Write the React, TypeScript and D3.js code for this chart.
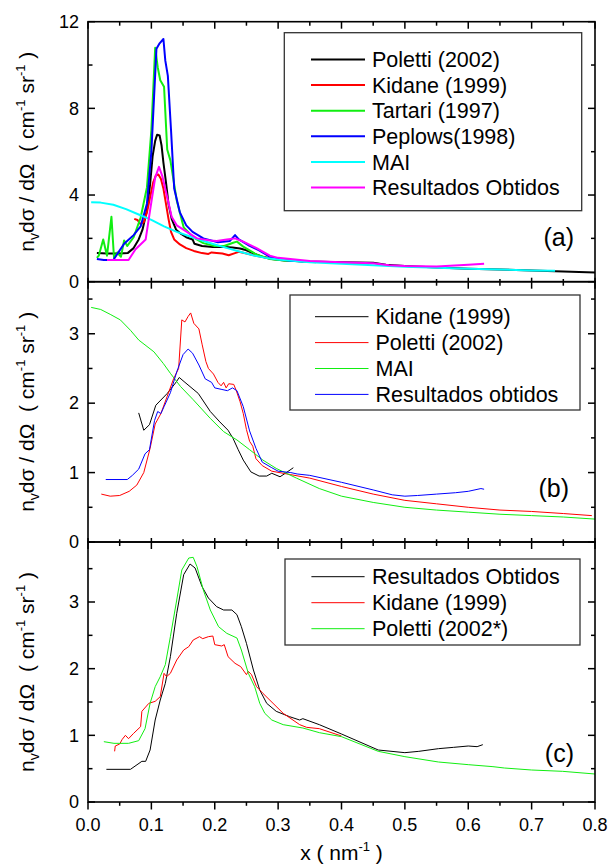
import React from 'react';
import * as d3 from 'd3';

type P = [number, number];

// ---------- axis ticks ----------
const xMajor = [0, 0.1, 0.2, 0.3, 0.4, 0.5, 0.6, 0.7, 0.8];
const xMinor = [0.05, 0.15, 0.25, 0.35, 0.45, 0.55, 0.65, 0.75];
const xTickLabels = ['0.0', '0.1', '0.2', '0.3', '0.4', '0.5', '0.6', '0.7', '0.8'];
const yMajorA = [0, 4, 8, 12];
const yMinorA = [2, 6, 10];
const yMajorBC = [0, 1, 2, 3];
const yMinorBC = [0.5, 1.5, 2.5, 3.5];

// ---------- panel (a) ----------
const aLegend = ['Poletti (2002)', 'Kidane (1999)', 'Tartari (1997)', 'Peplows(1998)', 'MAI', 'Resultados Obtidos'];
const aPoletti: P[] = [[0.014,1.32],[0.03,1.3],[0.05,1.3],[0.063,1.33],[0.072,1.55],[0.08,1.95],[0.086,2.4],[0.093,3.3],[0.098,4.5],[0.102,5.8],[0.106,6.5],[0.109,6.78],[0.113,6.75],[0.116,6.3],[0.119,5.5],[0.123,4.6],[0.127,3.6],[0.132,2.9],[0.139,2.4],[0.147,2.2],[0.155,2.05],[0.165,1.95],[0.168,1.75],[0.18,1.65],[0.197,1.6],[0.215,1.6],[0.228,1.58],[0.24,1.53],[0.25,1.45],[0.26,1.32],[0.275,1.15],[0.29,1.05],[0.31,0.98],[0.35,0.93],[0.4,0.9],[0.45,0.87],[0.47,0.78],[0.5,0.72],[0.55,0.66],[0.6,0.6],[0.65,0.56],[0.7,0.52],[0.75,0.47],[0.8,0.42]];
const aKidane: P[] = [[0.073,2.9],[0.078,2.85],[0.083,2.65],[0.088,2.75],[0.093,3.2],[0.098,3.9],[0.103,4.6],[0.107,4.9],[0.111,4.95],[0.115,4.75],[0.119,4.3],[0.123,3.6],[0.127,2.9],[0.131,2.3],[0.136,1.95],[0.145,1.72],[0.155,1.55],[0.167,1.42],[0.18,1.32],[0.19,1.28],[0.195,1.35],[0.203,1.33],[0.212,1.3],[0.222,1.22],[0.232,1.32],[0.238,1.38],[0.25,1.3],[0.265,1.2],[0.28,1.12],[0.3,1.05],[0.32,1.0]];
const aTartari: P[] = [[0.014,1.1],[0.017,1.2],[0.024,1.95],[0.03,1.2],[0.037,3.0],[0.041,1.12],[0.046,1.35],[0.052,1.15],[0.057,1.9],[0.062,1.65],[0.072,2.05],[0.083,2.95],[0.093,4.35],[0.1,7.0],[0.106,10.8],[0.11,9.9],[0.114,9.3],[0.12,9.0],[0.125,6.1],[0.13,5.6],[0.14,3.75],[0.151,2.5],[0.166,2.05],[0.182,1.78],[0.2,1.65],[0.215,1.65],[0.229,1.8],[0.235,1.85],[0.245,1.62],[0.266,1.25],[0.287,1.05],[0.31,0.98],[0.34,0.93],[0.36,0.9]];
const aPeplows: P[] = [[0.014,1.05],[0.025,1.0],[0.04,1.0],[0.049,1.4],[0.057,1.75],[0.072,2.15],[0.083,2.55],[0.093,3.6],[0.1,6.0],[0.108,10.75],[0.113,11.0],[0.119,11.2],[0.122,10.2],[0.126,9.5],[0.131,7.0],[0.136,4.3],[0.145,3.2],[0.155,2.6],[0.165,2.3],[0.182,2.0],[0.205,1.82],[0.224,1.88],[0.232,2.15],[0.238,1.95],[0.255,1.65],[0.27,1.45],[0.287,1.15],[0.3,1.05],[0.32,0.97],[0.34,0.93]];
const aMAI: P[] = [[0.005,3.67],[0.02,3.65],[0.04,3.55],[0.06,3.35],[0.08,3.1],[0.1,2.85],[0.12,2.55],[0.14,2.3],[0.16,2.1],[0.18,1.9],[0.2,1.72],[0.22,1.55],[0.24,1.38],[0.26,1.22],[0.28,1.1],[0.3,1.02],[0.35,0.9],[0.4,0.83],[0.45,0.76],[0.5,0.69],[0.55,0.64],[0.6,0.6],[0.65,0.56],[0.7,0.52],[0.737,0.5]];
const aResultados: P[] = [[0.03,1.0],[0.064,1.0],[0.075,1.5],[0.091,1.95],[0.098,3.3],[0.106,4.8],[0.112,5.3],[0.117,4.9],[0.125,3.9],[0.132,3.0],[0.14,2.6],[0.156,2.3],[0.172,2.0],[0.193,1.9],[0.203,1.88],[0.219,1.95],[0.232,2.0],[0.245,1.85],[0.266,1.55],[0.287,1.2],[0.3,1.1],[0.35,0.95],[0.4,0.9],[0.45,0.85],[0.475,0.76],[0.5,0.72],[0.55,0.7],[0.6,0.78],[0.625,0.83]];

// ---------- panel (b) ----------
const bLegend = ['Kidane (1999)', 'Poletti (2002)', 'MAI', 'Resultados obtidos'];
const bKidane: P[] = [[0.08,1.86],[0.088,1.61],[0.097,1.69],[0.107,1.97],[0.125,2.14],[0.138,2.29],[0.144,2.37],[0.153,2.3],[0.174,2.14],[0.193,1.88],[0.208,1.73],[0.221,1.61],[0.229,1.49],[0.237,1.33],[0.245,1.18],[0.257,1.01],[0.27,0.95],[0.282,0.95],[0.29,0.99],[0.303,0.94],[0.313,1.0],[0.324,1.07]];
const bPoletti: P[] = [[0.021,0.69],[0.035,0.66],[0.05,0.67],[0.065,0.73],[0.077,0.82],[0.088,1.0],[0.098,1.35],[0.106,1.7],[0.115,1.85],[0.125,2.1],[0.135,2.35],[0.143,2.5],[0.148,3.2],[0.153,3.17],[0.158,3.25],[0.162,3.3],[0.167,3.15],[0.175,3.07],[0.18,2.85],[0.186,2.6],[0.19,2.5],[0.198,2.42],[0.205,2.3],[0.21,2.25],[0.214,2.3],[0.218,2.22],[0.222,2.28],[0.23,2.27],[0.234,2.18],[0.24,2.02],[0.245,1.85],[0.25,1.62],[0.255,1.45],[0.26,1.38],[0.265,1.2],[0.275,1.1],[0.29,1.02],[0.32,0.97],[0.35,0.92],[0.4,0.8],[0.45,0.69],[0.5,0.6],[0.55,0.55],[0.6,0.5],[0.65,0.46],[0.7,0.44],[0.75,0.41],[0.795,0.38]];
const bMAI: P[] = [[0.005,3.38],[0.02,3.35],[0.035,3.28],[0.051,3.2],[0.067,3.05],[0.08,2.91],[0.104,2.74],[0.119,2.57],[0.13,2.43],[0.146,2.24],[0.166,2.05],[0.193,1.78],[0.214,1.59],[0.235,1.47],[0.255,1.33],[0.276,1.18],[0.297,1.06],[0.329,0.92],[0.365,0.77],[0.4,0.66],[0.45,0.57],[0.5,0.5],[0.55,0.46],[0.6,0.43],[0.65,0.4],[0.7,0.38],[0.75,0.36],[0.8,0.33]];
const bResultados: P[] = [[0.028,0.9],[0.062,0.9],[0.07,0.96],[0.08,1.05],[0.09,1.27],[0.097,1.33],[0.105,1.75],[0.11,1.88],[0.115,1.85],[0.12,1.95],[0.13,2.15],[0.14,2.45],[0.15,2.7],[0.158,2.78],[0.165,2.72],[0.175,2.55],[0.185,2.35],[0.195,2.3],[0.2,2.22],[0.21,2.2],[0.22,2.18],[0.228,2.22],[0.235,2.18],[0.245,1.95],[0.255,1.6],[0.265,1.35],[0.275,1.15],[0.29,1.07],[0.3,1.02],[0.32,1.0],[0.33,0.98],[0.35,0.96],[0.4,0.86],[0.45,0.75],[0.48,0.68],[0.5,0.66],[0.52,0.67],[0.55,0.69],[0.58,0.71],[0.6,0.73],[0.62,0.77],[0.625,0.76]];

// ---------- panel (c) ----------
const cLegend = ['Resultados Obtidos', 'Kidane (1999)', 'Poletti (2002*)'];
const cResultados: P[] = [[0.029,0.49],[0.067,0.49],[0.085,0.61],[0.091,0.61],[0.098,0.78],[0.106,1.23],[0.114,1.53],[0.122,1.78],[0.13,2.18],[0.14,2.83],[0.151,3.41],[0.161,3.57],[0.169,3.51],[0.18,3.23],[0.19,3.06],[0.203,2.93],[0.214,2.88],[0.227,2.88],[0.235,2.81],[0.242,2.63],[0.25,2.38],[0.261,1.98],[0.271,1.68],[0.282,1.48],[0.297,1.36],[0.318,1.28],[0.334,1.23],[0.339,1.25],[0.365,1.16],[0.4,1.02],[0.458,0.78],[0.5,0.74],[0.522,0.76],[0.553,0.8],[0.577,0.82],[0.6,0.84],[0.614,0.83],[0.623,0.86]];
const cKidane: P[] = [[0.042,0.76],[0.043,0.84],[0.05,0.87],[0.054,0.94],[0.059,1.0],[0.064,0.95],[0.072,1.03],[0.083,1.13],[0.085,1.36],[0.096,1.48],[0.106,1.51],[0.114,1.58],[0.12,1.93],[0.124,1.88],[0.13,1.93],[0.14,2.13],[0.151,2.28],[0.159,2.33],[0.166,2.43],[0.176,2.48],[0.181,2.45],[0.19,2.48],[0.197,2.49],[0.2,2.36],[0.211,2.34],[0.215,2.36],[0.221,2.18],[0.232,2.08],[0.241,2.03],[0.25,1.91],[0.253,1.96],[0.258,1.91],[0.266,1.73],[0.276,1.63],[0.292,1.48],[0.308,1.33],[0.334,1.16],[0.345,1.12],[0.365,1.1],[0.4,0.99]];
const cPoletti: P[] = [[0.025,0.905],[0.041,0.88],[0.064,0.88],[0.08,0.92],[0.09,1.1],[0.098,1.48],[0.106,1.73],[0.114,1.88],[0.122,2.06],[0.13,2.48],[0.14,3.03],[0.148,3.48],[0.159,3.66],[0.166,3.67],[0.172,3.53],[0.182,3.18],[0.193,2.88],[0.206,2.63],[0.219,2.53],[0.235,2.46],[0.242,2.28],[0.253,1.93],[0.263,1.73],[0.271,1.48],[0.279,1.33],[0.29,1.23],[0.308,1.16],[0.339,1.11],[0.365,1.04],[0.4,0.98],[0.458,0.76],[0.5,0.68],[0.553,0.6],[0.6,0.56],[0.639,0.53],[0.657,0.51],[0.7,0.48],[0.749,0.46],[0.8,0.42]];

const FONT = '"Liberation Sans", Arial, Helvetica, sans-serif';
const GREEN = '#11ee11';

type Series = { data: P[]; color: string };
type PanelDef = {
  top: number; bottom: number; max: number;
  major: number[]; minor: number[];
  series: Series[]; width: number;
  legend: string[]; legendBox: [number, number, number, number];
  rowY: number; rowStep: number; lineX: [number, number]; textX: number;
  tag: string; tagX: number; tagY: number;
  topEdge: 'in' | 'cross'; bottomEdge: 'out' | 'cross';
};

const x = d3.scaleLinear().domain([0, 0.8]).range([88, 595]);
const X0 = 88, X1 = 595;

function YLabel({ cy }: { cy: number }) {
  return (
    <text transform={`translate(34,${cy}) rotate(-90)`} textAnchor="middle" fontSize={21} fontFamily={FONT} fill="#000">
      <tspan>n</tspan>
      <tspan dy={5} fontSize={14}>v</tspan>
      <tspan dy={-5}>{'d\u03c3 / d\u03a9\u00a0\u00a0( cm'}</tspan>
      <tspan dy={-9} fontSize={13}>-1</tspan>
      <tspan dy={9}>{'\u00a0sr'}</tspan>
      <tspan dy={-9} fontSize={13}>-1</tspan>
      <tspan dy={9}>{'\u00a0)'}</tspan>
    </text>
  );
}

function Panel({ p, idx, showX }: { p: PanelDef; idx: number; showX: boolean }) {
  const y = d3.scaleLinear().domain([0, p.max]).range([p.bottom, p.top]);
  const line = d3.line<P>().x(d => x(d[0])).y(d => y(d[1]));
  const clipId = `clip${idx}`;
  const [bx0, by0, bx1, by1] = p.legendBox;
  const bottomTick = (v: number, major: boolean) => {
    const X = x(v);
    if (p.bottomEdge === 'out') return <line key={`b${v}`} x1={X} x2={X} y1={p.bottom} y2={p.bottom + (major ? 7.5 : 3.8)} stroke="#000" strokeWidth={1.5} />;
    return <line key={`b${v}`} x1={X} x2={X} y1={p.bottom - (major ? 4 : 2.7)} y2={p.bottom + (major ? 7 : 4)} stroke="#000" strokeWidth={1.5} />;
  };
  const topTick = (v: number, major: boolean) => {
    const X = x(v);
    return <line key={`t${v}`} x1={X} x2={X} y1={p.top} y2={p.top + (major ? 7 : 4)} stroke="#000" strokeWidth={1.5} />;
  };
  return (
    <g>
      <defs>
        <clipPath id={clipId}><rect x={X0} y={p.top} width={X1 - X0} height={p.bottom - p.top} /></clipPath>
      </defs>
      <g clipPath={`url(#${clipId})`}>
        {p.series.map((s, i) => (
          <path key={i} d={line(s.data) || ''} fill="none" stroke={s.color} strokeWidth={p.width} strokeLinejoin="round" />
        ))}
      </g>
      {/* legend */}
      <rect x={bx0} y={by0} width={bx1 - bx0} height={by1 - by0} fill="none" stroke="#333" strokeWidth={1.3} />
      {p.legend.map((t, i) => {
        const cy = p.rowY + i * p.rowStep;
        return (
          <g key={t}>
            <line x1={p.lineX[0]} x2={p.lineX[1]} y1={cy} y2={cy} stroke={p.series[i].color} strokeWidth={p.width} />
            <text x={p.textX} y={cy + 7.7} fontSize={21.5} fontFamily={FONT} fill="#000">{t}</text>
          </g>
        );
      })}
      <text x={p.tagX} y={p.tagY + 8.8} textAnchor="end" fontSize={25} fontFamily={FONT} fill="#000">{p.tag}</text>
      {/* frame */}
      <rect x={X0} y={p.top} width={X1 - X0} height={p.bottom - p.top} fill="none" stroke="#000" strokeWidth={1.6} />
      {/* y ticks */}
      {p.major.map(v => (
        <g key={`ym${v}`}>
          <line x1={X0} x2={X0 + 7} y1={y(v)} y2={y(v)} stroke="#000" strokeWidth={1.5} />
          <line x1={X1} x2={X1 - 7} y1={y(v)} y2={y(v)} stroke="#000" strokeWidth={1.5} />
          <text x={79} y={y(v) + 6.3} textAnchor="end" fontSize={18} fontFamily={FONT} fill="#000">{String(v)}</text>
        </g>
      ))}
      {p.minor.map(v => (
        <g key={`yn${v}`}>
          <line x1={X0} x2={X0 + 4.5} y1={y(v)} y2={y(v)} stroke="#000" strokeWidth={1.5} />
          <line x1={X1} x2={X1 - 4} y1={y(v)} y2={y(v)} stroke="#000" strokeWidth={1.5} />
        </g>
      ))}
      {/* x ticks */}
      {xMajor.map(v => bottomTick(v, true))}
      {xMinor.map(v => bottomTick(v, false))}
      {p.topEdge === 'in' && xMajor.map(v => topTick(v, true))}
      {p.topEdge === 'in' && xMinor.map(v => topTick(v, false))}
      {showX && xMajor.map((v, i) => (
        <text key={`xl${v}`} x={x(v)} y={831} textAnchor="middle" fontSize={18} fontFamily={FONT} fill="#000">{xTickLabels[i]}</text>
      ))}
      <YLabel cy={(p.top + p.bottom) / 2} />
    </g>
  );
}

export default function App() {
  const panels: PanelDef[] = [
    {
      top: 21.7, bottom: 281.7, max: 12, major: yMajorA, minor: yMinorA, width: 2,
      series: [
        { data: aPoletti, color: '#000000' },
        { data: aKidane, color: '#ff0000' },
        { data: aTartari, color: GREEN },
        { data: aPeplows, color: '#0000ff' },
        { data: aMAI, color: '#00ffff' },
        { data: aResultados, color: '#ff00ff' },
      ],
      legend: aLegend, legendBox: [284.3, 32.7, 581.7, 210.7],
      rowY: 59.5, rowStep: 25.6, lineX: [311, 365], textX: 372,
      tag: '(a)', tagX: 574, tagY: 236.7, topEdge: 'in', bottomEdge: 'cross',
    },
    {
      top: 281.7, bottom: 542, max: 3.75, major: yMajorBC, minor: yMinorBC, width: 1,
      series: [
        { data: bKidane, color: '#000000' },
        { data: bPoletti, color: '#ff0000' },
        { data: bMAI, color: GREEN },
        { data: bResultados, color: '#0000ff' },
      ],
      legend: bLegend, legendBox: [290, 295, 580, 410],
      rowY: 316.7, rowStep: 25.9, lineX: [315, 368.5], textX: 375.5,
      tag: '(b)', tagX: 569, tagY: 488, topEdge: 'cross', bottomEdge: 'cross',
    },
    {
      top: 542, bottom: 802, max: 3.9, major: yMajorBC, minor: yMinorBC, width: 1,
      series: [
        { data: cResultados, color: '#000000' },
        { data: cKidane, color: '#ff0000' },
        { data: cPoletti, color: GREEN },
      ],
      legend: cLegend, legendBox: [285, 559, 580, 645],
      rowY: 576.7, rowStep: 26, lineX: [311.4, 364.6], textX: 372,
      tag: '(c)', tagX: 574, tagY: 752.7, topEdge: 'cross', bottomEdge: 'out',
    },
  ];
  return (
    <svg width={609} height={864} viewBox="0 0 609 864" style={{ position: 'absolute', left: 0, top: 0, background: '#fff' }}>
      <rect x={0} y={0} width={609} height={864} fill="#fff" />
      {panels.map((p, i) => <Panel key={i} p={p} idx={i} showX={i === 2} />)}
      <text x={341.5} y={860} textAnchor="middle" fontSize={21} fontFamily={FONT} fill="#000">
        <tspan>{'x ( nm'}</tspan>
        <tspan dy={-9} fontSize={13}>-1</tspan>
        <tspan dy={9}>{'\u00a0)'}</tspan>
      </text>
    </svg>
  );
}
